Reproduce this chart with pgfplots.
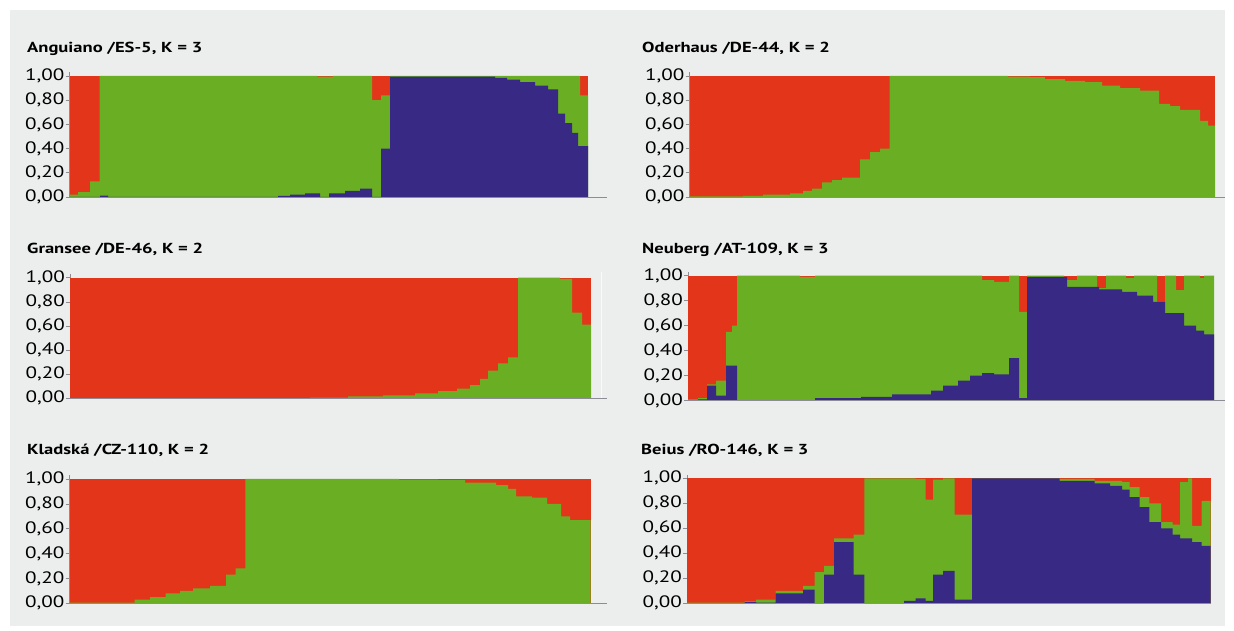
\documentclass[border=0pt]{standalone}
\usepackage{pgfplots}
\pgfplotsset{compat=1.18}
\usepackage{fontspec}
\setmainfont[FakeStretch=1.28]{PT Sans}

\definecolor{bgGrey}{RGB}{236,237,237}
\definecolor{cRed}{RGB}{227,53,25}
\definecolor{cGreen}{RGB}{106,174,35}
\definecolor{cBlue}{RGB}{55,41,132}
\definecolor{axGrey}{RGB}{140,140,148}

% Common look of one admixture panel (ancestry proportions 0..1)
\pgfplotsset{
  qpanel/.style={
    anchor=south west, clip=false,
    x=1pt, ymin=0, ymax=1.03,
    axis x line=none, axis y line*=left,
    y axis line style={axGrey, line width=0.8pt, -},
    xtick=\empty,
    ytick={0,0.2,0.4,0.6,0.8,1},
    yticklabels={{0,00},{0,20},{0,40},{0,60},{0,80},{1,00}},
    tick align=outside, major tick length=4pt,
    tick style={axGrey, line width=0.6pt},
    yticklabel style={font=\fontsize{16.5}{16.5}\selectfont, inner sep=0pt, xshift=-1pt},
  },
  red layer/.style={draw=none, fill=cRed},
  green layer/.style={const plot mark left, draw=none, fill=cGreen},
  blue layer/.style={const plot mark left, draw=none, fill=cBlue},
}
\newcommand{\paneltitle}[2]{\node[anchor=base west, inner sep=0pt, font=\fontsize{14.5}{14.5}\selectfont\bfseries] at #1 {#2};}

\begin{document}
\begin{tikzpicture}[x=1pt,y=1pt]
\fill[white] (0,0) rectangle (1234,631);
\fill[bgGrey] (10,5) rectangle (1225,621);

% ---------------- Anguiano
\paneltitle{(27,578)}{Anguiano /ES-5, K = 3}
\begin{axis}[qpanel, y=121pt, xmin=69.5, xmax=588, at={(69.5pt,434pt)}]
\addplot[red layer] coordinates {(69.5,1) (588,1)} \closedcycle;
\addplot[green layer] coordinates {
(69.5,0.02) (78,0.04) (90,0.13) (99.5,1) (317,0.995) (333,1) (372,0.80) (381,0.84)
(390,1) (580,0.84) (588,0.84)} \closedcycle;
\addplot[blue layer] coordinates {
(69.5,0) (100,0.012) (108,0) (278,0.01) (290,0.02) (305,0.03) (320,0) (329,0.03)
(345,0.05) (360,0.07) (372,0) (381,0.40) (390,0.995) (495,0.985) (507,0.97) (520,0.95)
(535,0.92) (548,0.89) (558,0.69) (565,0.61) (572,0.53) (578,0.42) (588,0.42)} \closedcycle;
\draw[axGrey, line width=0.8pt] (axis cs:69.5,0) -- (axis cs:607,0);
\end{axis}

% ---------------- Oderhaus
\paneltitle{(642,578)}{Oderhaus /DE-44, K = 2}
\begin{axis}[qpanel, y=121pt, xmin=689.5, xmax=1215, at={(689.5pt,434pt)}]
\addplot[red layer] coordinates {(689.5,1) (1215,1)} \closedcycle;
\addplot[green layer] coordinates {
(689.5,0.005) (743,0.01) (763,0.02) (790,0.03) (803,0.05) (812,0.07) (822,0.12)
(832,0.14) (842,0.16) (860,0.31) (870,0.37) (880,0.40) (889.5,1) (1008,0.995)
(1030,0.99) (1045,0.975) (1065,0.96) (1085,0.95) (1102,0.92) (1120,0.90) (1140,0.88)
(1159,0.77) (1170,0.75) (1180,0.72) (1200,0.63) (1208,0.59) (1215,0.59)} \closedcycle;
\draw[axGrey, line width=0.8pt] (axis cs:689.5,0) -- (axis cs:1225,0);
\end{axis}

% ---------------- Gransee
\paneltitle{(27,377)}{Gransee /DE-46, K = 2}
\begin{axis}[qpanel, y=120.6pt, xmin=70, xmax=591, at={(70pt,232.7pt)}]
\addplot[red layer] coordinates {(70,1) (591,1)} \closedcycle;
\addplot[green layer] coordinates {
(70,0) (310,0.005) (348,0.015) (383,0.025) (415,0.04) (438,0.06) (457,0.08) (470,0.11)
(480,0.16) (488,0.23) (498,0.29) (508,0.34) (518,1) (560,0.99) (572,0.71) (582,0.61)
(591,0.61)} \closedcycle;
\draw[axGrey, line width=0.8pt] (axis cs:70,0) -- (axis cs:607,0);
\draw[white!70!bgGrey, line width=1pt] (axis cs:601,0) -- (axis cs:601,1.05);
\end{axis}

% ---------------- Neuberg
\paneltitle{(642,377)}{Neuberg /AT-109, K = 3}
\begin{axis}[qpanel, y=125pt, xmin=688, xmax=1214, at={(688pt,230.3pt)}]
\addplot[red layer] coordinates {(688,1) (1214,1)} \closedcycle;
\addplot[green layer] coordinates {
(688,0.01) (698,0.02) (707,0.13) (716,0.16) (726,0.55) (732,0.60) (737,1) (800,0.99)
(815,1) (982,0.965) (994,0.95) (1009,1) (1019,0.71) (1027,1) (1064,0.965) (1077,1)
(1097,0.90) (1106,1) (1126,0.98) (1134,1) (1157,0.79) (1165,1) (1176,0.885) (1184,1)
(1200,0.98) (1204,1) (1214,1)} \closedcycle;
\addplot[blue layer] coordinates {
(688,0) (698,0.01) (707,0.12) (716,0.04) (726,0.28) (737,0.005) (815,0.02) (861,0.03)
(892,0.05) (931,0.08) (943,0.12) (958,0.16) (970,0.20) (982,0.22) (994,0.21)
(1009,0.34) (1019,0.02) (1027,0.99) (1067,0.91) (1099,0.89) (1122,0.87) (1137,0.84)
(1153,0.79) (1165,0.70) (1184,0.60) (1196,0.56) (1204,0.53) (1214,0.53)} \closedcycle;
\draw[axGrey, line width=0.8pt] (axis cs:688,0) -- (axis cs:1225,0);
\end{axis}

% ---------------- Kladska
\paneltitle{(27,176)}{Kladská /CZ-110, K = 2}
\begin{axis}[qpanel, y=124.3pt, xmin=69.5, xmax=590.5, at={(69.5pt,27.7pt)}]
\addplot[red layer] coordinates {(69.5,1) (590.5,1)} \closedcycle;
\addplot[green layer] coordinates {
(69.5,0.005) (134.5,0.03) (150,0.05) (165.6,0.08) (180,0.10) (193,0.12) (210,0.14)
(226,0.23) (235.7,0.28) (245.4,1) (399,0.995) (438,0.99) (465,0.97) (496,0.95)
(508,0.92) (516,0.86) (532,0.85) (547,0.80) (561,0.70) (570,0.67) (590.5,0.67)} \closedcycle;
\draw[axGrey, line width=0.8pt] (axis cs:69.5,0) -- (axis cs:607,0);
\end{axis}

% ---------------- Beius
\paneltitle{(641,176)}{Beius /RO-146, K = 3}
\begin{axis}[qpanel, y=125pt, xmin=687, xmax=1210.6, at={(687pt,27.7pt)}]
\addplot[red layer] coordinates {(687,1) (1210.6,1)} \closedcycle;
\addplot[green layer] coordinates {
(687,0.005) (744.5,0.015) (756,0.03) (775.6,0.10) (803,0.14) (814.5,0.25) (824,0.30)
(834,0.52) (853.5,0.55) (864.4,1) (915.7,0.995) (925.5,0.83) (933,0.99) (943,1)
(954.6,0.71) (972,1) (1059.7,0.995) (1094.7,0.98) (1122,0.97) (1129.7,0.93)
(1139.5,0.85) (1149.3,0.80) (1161,0.65) (1172.5,0.63) (1180,0.97) (1188,1) (1192,0.62)
(1201.7,0.82) (1210.6,0.82)} \closedcycle;
\addplot[blue layer] coordinates {
(687,0) (744.5,0.01) (756,0.005) (775.6,0.08) (803,0.11) (814.5,0) (824,0.23)
(834,0.49) (853.5,0.23) (864.4,0) (904,0.02) (915.7,0.04) (925.5,0.02) (933,0.23)
(943,0.26) (954.6,0.03) (972,1) (1059.7,0.98) (1094.7,0.96) (1110,0.94) (1122,0.91)
(1129.7,0.85) (1139.5,0.77) (1149.3,0.65) (1161,0.60) (1172.5,0.55) (1180,0.52)
(1192,0.49) (1201.7,0.46) (1210.6,0.46)} \closedcycle;
\draw[axGrey, line width=0.8pt] (axis cs:687,0) -- (axis cs:1210.6,0);
\end{axis}
\end{tikzpicture}
\end{document}
